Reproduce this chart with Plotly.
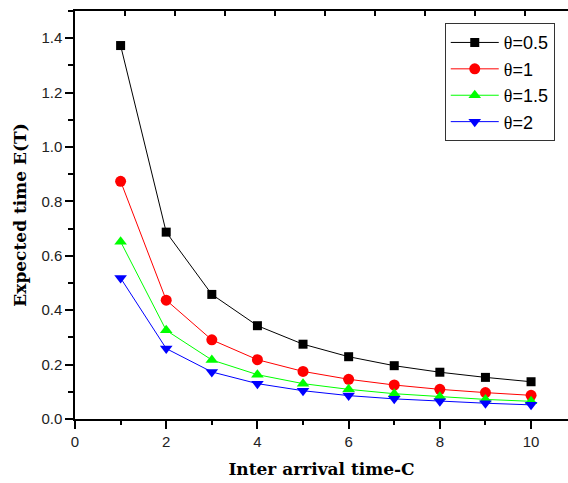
import plotly.graph_objects as go

c_values = [1, 2, 3, 4, 5, 6, 7, 8, 9, 10]

theta_05 = [1.373, 0.687, 0.458, 0.343, 0.275, 0.229, 0.196, 0.172, 0.153, 0.137]
theta_1 = [0.874, 0.437, 0.291, 0.218, 0.175, 0.146, 0.125, 0.109, 0.097, 0.087]
theta_15 = [0.652, 0.326, 0.217, 0.163, 0.130, 0.109, 0.093, 0.082, 0.072, 0.065]
theta_2 = [0.518, 0.259, 0.173, 0.130, 0.104, 0.086, 0.074, 0.065, 0.058, 0.052]

names = ["θ=0.5", "θ=1", "θ=1.5", "θ=2"]
colors = ["#000000", "#ff0000", "#00ff00", "#0000ff"]
symbols = ["square", "circle", "triangle-up", "triangle-down"]
sizes = [9, 11, 11, 11]

fig = go.Figure()

for ys, name, color, sym, sz in zip([theta_05, theta_1, theta_15, theta_2], names, colors, symbols, sizes):
    label = '<span style="font-family:Liberation Serif">θ</span>' + name[1:]
    fig.add_trace(go.Scatter(
        x=c_values, y=ys, name=label, mode="lines+markers",
        line=dict(color=color, width=1),
        marker=dict(symbol=sym, size=sz, color=color),
    ))

# top frame line with its own inward ticks
fig.add_trace(go.Scatter(x=[None], y=[None], xaxis="x2", showlegend=False, hoverinfo="skip"))

tick_font = dict(family="Liberation Sans, Arial", size=15, color="#222222")
title_font = dict(family="DejaVu Serif", size=17, color="#000000")

fig.update_layout(
    width=568, height=483,
    margin=dict(l=75, r=0, t=11, b=64),
    plot_bgcolor="white", paper_bgcolor="white",
    showlegend=True,
    legend=dict(
        x=0.75, y=0.97, xanchor="left", yanchor="top",
        bordercolor="#333333", borderwidth=1, bgcolor="white",
        font=dict(family="Liberation Sans, Arial", size=18, color="#000000"),
        itemwidth=48, tracegroupgap=0,
    ),
    xaxis=dict(
        range=[0, 10.81], dtick=2, tick0=0, automargin=False,
        showgrid=False, zeroline=False,
        showline=True, linecolor="black", linewidth=1.5,
        ticks="outside", ticklen=8, tickwidth=1.5, tickcolor="black",
        minor=dict(dtick=1, ticks="outside", ticklen=4, tickwidth=1.5, tickcolor="black"),
        tickfont=tick_font,
        title=dict(text="<b>Inter arrival time-C</b>", font=title_font, standoff=14),
    ),
    xaxis2=dict(
        overlaying="x", side="top", anchor="y", automargin=False,
        range=[0, 9.86], dtick=1, tick0=0,
        showgrid=False, zeroline=False, showticklabels=False,
        showline=True, linecolor="black", linewidth=1.5,
        ticks="inside", ticklen=5, tickwidth=1.5, tickcolor="black",
    ),
    yaxis=dict(
        range=[0, 1.5], dtick=0.2, tick0=0, tickformat=".1f", automargin=False,
        showgrid=False, zeroline=False,
        showline=True, linecolor="black", linewidth=1.5,
        ticks="outside", ticklen=8, tickwidth=1.5, tickcolor="black",
        minor=dict(dtick=0.1, ticks="outside", ticklen=5, tickwidth=1.5, tickcolor="black"),
        tickfont=tick_font,
        title=dict(text="<b>Expected time E(T)</b>", font=title_font, standoff=10),
    ),
)

fig.write_html("out.html", config={"displayModeBar": False},
               post_script="document.body.style.margin='0';")
